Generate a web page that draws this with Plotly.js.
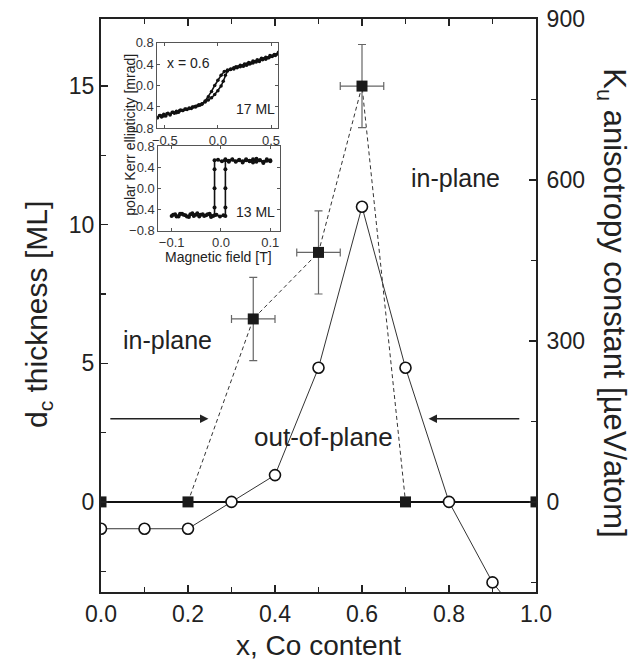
<!DOCTYPE html>
<html>
<head>
<meta charset="utf-8">
<script src="https://cdn.plot.ly/plotly-3.0.1.min.js"></script>
<style>html,body{margin:0;padding:0;background:#fff;}#chart{width:642px;height:665px;}</style>
</head>
<body>
<div id="chart"></div>
<script>
// ---- main data ----
const dcX = [0.0, 0.2, 0.35, 0.5, 0.6, 0.7, 1.0];
const dcY = [0, 0, 6.6, 9.0, 15.0, 0, 0];
const dcErrY = [0, 0, 1.5, 1.5, 1.5, 0, 0];
const dcErrX = [0, 0, 0.05, 0.05, 0.05, 0, 0];
const kuX = [0.0, 0.1, 0.2, 0.3, 0.4, 0.5, 0.6, 0.7, 0.8, 0.9, 1.0];
const kuY = [-50, -50, -50, 0, 50, 250, 550, 250, 0, -150, -250];

// ---- inset 1: x = 0.6, 17 ML ----
const loop1UpX = [-0.57,-0.55,-0.53,-0.51,-0.49,-0.47,-0.45,-0.43,-0.41,-0.39,-0.37,-0.35,-0.33,-0.31,-0.29,-0.27,-0.25,-0.23,-0.21,-0.19,-0.17,-0.15,-0.12,-0.09,-0.06,-0.03,0.00,0.03,0.05,0.07,0.09,0.12,0.15,0.18,0.21,0.24,0.27,0.30,0.33,0.36,0.39,0.42,0.45,0.48,0.51,0.54,0.57];
const loop1UpY = [-0.61,-0.56,-0.59,-0.54,-0.57,-0.52,-0.55,-0.50,-0.52,-0.48,-0.50,-0.46,-0.47,-0.44,-0.45,-0.42,-0.43,-0.40,-0.40,-0.38,-0.37,-0.35,-0.31,-0.27,-0.23,-0.17,-0.10,-0.01,0.08,0.19,0.27,0.30,0.31,0.33,0.35,0.36,0.38,0.40,0.42,0.44,0.45,0.48,0.49,0.52,0.54,0.56,0.60];
const loop1DnX = [0.57,0.55,0.53,0.51,0.49,0.47,0.45,0.43,0.41,0.39,0.37,0.35,0.33,0.31,0.29,0.27,0.25,0.23,0.21,0.19,0.17,0.15,0.12,0.09,0.06,0.03,0.00,-0.03,-0.06,-0.09,-0.12,-0.15,-0.18,-0.21,-0.24,-0.27,-0.30,-0.33,-0.36,-0.39,-0.42,-0.45,-0.48,-0.51,-0.54,-0.57];
const loop1DnY = [0.62,0.58,0.58,0.55,0.56,0.52,0.53,0.50,0.51,0.47,0.48,0.45,0.46,0.42,0.43,0.40,0.40,0.37,0.38,0.35,0.35,0.33,0.31,0.29,0.26,0.19,0.10,0.00,-0.11,-0.21,-0.29,-0.34,-0.36,-0.39,-0.40,-0.43,-0.44,-0.47,-0.47,-0.51,-0.50,-0.54,-0.53,-0.57,-0.56,-0.60];

// ---- inset 2: 13 ML ----
const loop2UpX = [-0.100,-0.093,-0.086,-0.079,-0.072,-0.065,-0.058,-0.051,-0.044,-0.037,-0.030,-0.023,-0.016,-0.009,-0.002,0.005,0.009,0.009,0.009,0.009,0.009,0.016,0.023,0.030,0.037,0.044,0.051,0.058,0.065,0.072,0.079,0.086,0.093,0.100];
const loop2UpY = [-0.52,-0.49,-0.53,-0.48,-0.51,-0.54,-0.47,-0.50,-0.53,-0.49,-0.51,-0.48,-0.52,-0.50,-0.53,-0.51,-0.52,-0.36,0.00,0.36,0.53,0.50,0.55,0.51,0.54,0.49,0.53,0.51,0.55,0.50,0.53,0.48,0.52,0.53];
const loop2DnX = [0.100,0.093,0.086,0.079,0.072,0.065,0.058,0.051,0.044,0.037,0.030,0.023,0.016,0.009,0.002,-0.006,-0.013,-0.013,-0.013,-0.013,-0.013,-0.020,-0.027,-0.034,-0.041,-0.048,-0.055,-0.062,-0.069,-0.076,-0.083,-0.090,-0.097];
const loop2DnY = [0.51,0.55,0.50,0.53,0.56,0.49,0.52,0.55,0.51,0.53,0.50,0.54,0.52,0.55,0.51,0.54,0.53,0.36,0.00,-0.36,-0.51,-0.54,-0.49,-0.52,-0.50,-0.47,-0.52,-0.49,-0.53,-0.50,-0.48,-0.53,-0.50];

const FONT = 'Arial, "Liberation Sans", sans-serif';
const dashIdx = [1,2,3,4,5];

const traces = [
  { x: dashIdx.map(i => dcX[i]), y: dashIdx.map(i => dcY[i]), mode: 'lines', xaxis: 'x', yaxis: 'y',
    line: {color: '#333', width: 1, dash: '4px,3px'}, hoverinfo: 'skip' },
  { x: kuX, y: kuY, mode: 'lines+markers', xaxis: 'x', yaxis: 'y2',
    line: {color: '#333', width: 1},
    marker: {symbol: 'circle', size: 11, color: '#fff', line: {color: '#111', width: 1.6}} },
  { x: dcX, y: dcY, mode: 'markers', xaxis: 'x', yaxis: 'y',
    marker: {symbol: 'square', size: 11, color: '#1a1a1a'},
    error_y: {type: 'data', array: dcErrY, visible: true, color: '#666', thickness: 1.2, width: 4},
    error_x: {type: 'data', array: dcErrX, visible: true, color: '#666', thickness: 1.2, width: 4} },
  { x: loop1UpX, y: loop1UpY, mode: 'lines+markers', xaxis: 'x3', yaxis: 'y3',
    line: {color: '#111', width: 1.6}, marker: {size: 3.5, color: '#111'} },
  { x: loop1DnX, y: loop1DnY, mode: 'lines+markers', xaxis: 'x3', yaxis: 'y3',
    line: {color: '#111', width: 1.6}, marker: {size: 3.5, color: '#111'} },
  { x: loop2UpX, y: loop2UpY, mode: 'lines+markers', xaxis: 'x4', yaxis: 'y4',
    line: {color: '#111', width: 1.6}, marker: {size: 4, color: '#111'} },
  { x: loop2DnX, y: loop2DnY, mode: 'lines+markers', xaxis: 'x4', yaxis: 'y4',
    line: {color: '#111', width: 1.6}, marker: {size: 4, color: '#111'} }
];

const insetAxis = {
  showline: true, mirror: 'ticks', linecolor: '#555', linewidth: 1,
  ticks: 'inside', ticklen: 3, tickcolor: '#555', showgrid: false, zeroline: false,
  tickfont: {family: FONT, size: 13, color: '#333'}, tickformat: '.1f'
};

const layout = {
  width: 642, height: 665,
  margin: {l: 101, r: 106.3, t: 19, b: 73},
  paper_bgcolor: '#fff', plot_bgcolor: '#fff',
  showlegend: false,
  font: {family: FONT, color: '#222'},
  xaxis: {
    range: [0, 1], dtick: 0.2, tick0: 0, tickformat: '.1f',
    showline: true, linecolor: '#222', linewidth: 2, mirror: 'ticks',
    ticks: 'inside', ticklen: 7, tickwidth: 1.2, tickcolor: '#222',
    minor: {dtick: 0.1, ticks: 'inside', ticklen: 5, tickcolor: '#222'},
    showgrid: false, zeroline: false,
    tickfont: {family: FONT, size: 23, color: '#222'}
  },
  yaxis: {
    range: [-3.25, 17.42], tickvals: [0, 5, 10, 15],
    showline: true, linecolor: '#222', linewidth: 2,
    ticks: 'inside', ticklen: 7, tickwidth: 1.2, tickcolor: '#222',
    minor: {tickvals: [-2.5, 2.5, 7.5, 12.5], ticks: 'inside', ticklen: 5, tickcolor: '#222'},
    showgrid: false, zeroline: true, zerolinecolor: '#111', zerolinewidth: 2.5,
    tickfont: {family: FONT, size: 23, color: '#222'}
  },
  yaxis2: {
    overlaying: 'y', side: 'right', anchor: 'x',
    range: [-167.9, 900], tickvals: [0, 300, 600, 900],
    showline: true, linecolor: '#222', linewidth: 2,
    ticks: 'inside', ticklen: 7, tickwidth: 1.2, tickcolor: '#222',
    minor: {tickvals: [-150, 150, 450, 750], ticks: 'inside', ticklen: 5, tickcolor: '#222'},
    showgrid: false, zeroline: false, ticklabelstandoff: 4,
    tickfont: {family: FONT, size: 23, color: '#222'}
  },
  xaxis3: Object.assign({}, insetAxis, {domain: [0.1295, 0.408], anchor: 'y3', range: [-0.57, 0.57], tickvals: [-0.5, 0, 0.5]}),
  yaxis3: Object.assign({}, insetAxis, {domain: [0.8093, 0.9586], anchor: 'x3', range: [-0.8, 0.8], tickvals: [-0.8, -0.4, 0, 0.4, 0.8]}),
  xaxis4: Object.assign({}, insetAxis, {domain: [0.1318, 0.4118], anchor: 'y4', range: [-0.127, 0.12], tickvals: [-0.1, 0, 0.1]}),
  yaxis4: Object.assign({}, insetAxis, {domain: [0.6305, 0.7784], anchor: 'x4', range: [-0.8, 0.8], tickvals: [-0.8, -0.4, 0, 0.4, 0.8]}),
  annotations: [
    {xref: 'paper', yref: 'paper', x: 0.5, y: -0.0925, text: 'x, Co content', showarrow: false,
     font: {family: FONT, size: 28, color: '#222'}, xanchor: 'center', yanchor: 'middle'},
    {xref: 'paper', yref: 'paper', x: -0.145, y: 0.485, text: 'd<sub>c</sub> thickness [ML]', showarrow: false,
     textangle: -90, font: {family: FONT, size: 30, color: '#222'}, xanchor: 'center', yanchor: 'middle'},
    {xref: 'paper', yref: 'paper', x: 1.1755, y: 0.505, text: 'K<sub>u</sub> anisotropy constant [µeV/atom]', showarrow: false,
     textangle: 90, font: {family: FONT, size: 31, color: '#222'}, xanchor: 'center', yanchor: 'middle'},
    {xref: 'x', yref: 'y', x: 0.154, y: 5.85, text: 'in-plane', showarrow: false,
     font: {family: FONT, size: 25, color: '#222'}},
    {xref: 'x', yref: 'y', x: 0.814, y: 11.68, text: 'in-plane', showarrow: false,
     font: {family: FONT, size: 25, color: '#222'}},
    {xref: 'x', yref: 'y', x: 0.511, y: 2.34, text: 'out-of-plane', showarrow: false,
     font: {family: FONT, size: 26, color: '#222'}},
    {xref: 'x', yref: 'y', x: 0.247, y: 3.0, ax: 0.018, ay: 3.0, axref: 'x', ayref: 'y', text: '',
     showarrow: true, arrowhead: 2, arrowsize: 1.3, arrowwidth: 1.3, arrowcolor: '#222'},
    {xref: 'x', yref: 'y', x: 0.753, y: 3.0, ax: 0.965, ay: 3.0, axref: 'x', ayref: 'y', text: '',
     showarrow: true, arrowhead: 2, arrowsize: 1.3, arrowwidth: 1.3, arrowcolor: '#222'},
    {xref: 'x3', yref: 'y3', x: -0.281, y: 0.43, text: 'x = 0.6', showarrow: false,
     font: {family: FONT, size: 14, color: '#222'}},
    {xref: 'x3', yref: 'y3', x: 0.35, y: -0.44, text: '17 ML', showarrow: false,
     font: {family: FONT, size: 14, color: '#222'}},
    {xref: 'x4', yref: 'y4', x: 0.0693, y: -0.44, text: '13 ML', showarrow: false,
     font: {family: FONT, size: 14, color: '#222'}},
    {xref: 'paper', yref: 'paper', x: 0.066, y: 0.7976, text: 'polar Kerr ellipticity [mrad]', showarrow: false,
     textangle: -90, font: {family: FONT, size: 14, color: '#222'}, xanchor: 'center', yanchor: 'middle'},
    {xref: 'paper', yref: 'paper', x: 0.269, y: 0.5855, text: 'Magnetic field [T]', showarrow: false,
     font: {family: FONT, size: 14, color: '#222'}, xanchor: 'center', yanchor: 'middle'}
  ]
};

Plotly.newPlot('chart', traces, layout, {displayModeBar: false, staticPlot: true});
</script>
</body>
</html>
